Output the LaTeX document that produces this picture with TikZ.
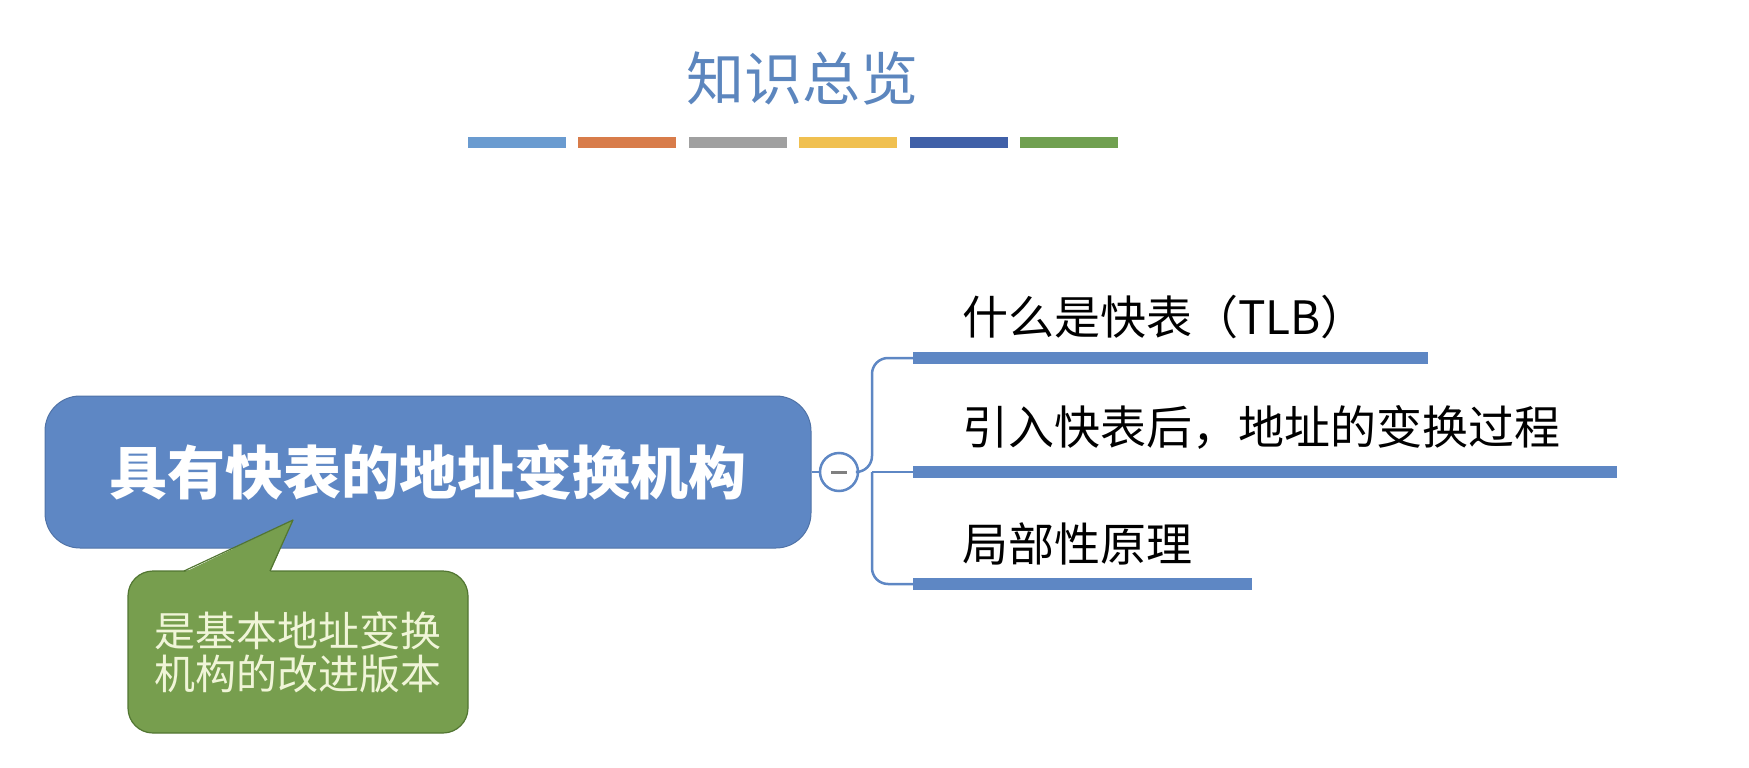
\documentclass[tikz,border=0pt]{standalone}
\usepackage{fontspec}
\newfontfamily\cjk{Noto Sans CJK SC}
\usetikzlibrary{positioning}
\definecolor{mainblue}{RGB}{94,135,196}
\definecolor{titleblue}{RGB}{92,134,190}
\definecolor{notegreen}{RGB}{119,158,78}
\definecolor{noteedge}{RGB}{82,118,50}
\definecolor{notetext}{RGB}{240,245,216}
\definecolor{barA}{RGB}{106,155,208}
\definecolor{barB}{RGB}{216,124,74}
\definecolor{barC}{RGB}{160,160,160}
\definecolor{barD}{RGB}{240,192,80}
\definecolor{barE}{RGB}{64,96,168}
\definecolor{barF}{RGB}{112,160,80}
\tikzset{
  mainbox/.style={fill=mainblue, draw=mainblue!85!black, line width=1pt, rounded corners=35pt,
    minimum width=766pt, minimum height=152pt, text=white,
    font=\cjk\bfseries\fontsize{58}{62}\selectfont},
  notebox/.style={fill=notegreen, draw=noteedge, line width=1.2pt, rounded corners=25pt,
    minimum width=340pt, minimum height=162pt, text=notetext, align=center,
    font=\cjk\fontsize{41}{43}\selectfont},
  topic/.style={anchor=west, text=black, inner sep=0pt, font=\cjk\fontsize{46}{48}\selectfont},
  underbar/.style={fill=mainblue, inner sep=0pt, minimum height=12pt, anchor=west},
  trunk/.style={draw=mainblue, line width=2.5pt, rounded corners=16pt}
}
\begin{document}
\begin{tikzpicture}[x=1pt,y=-1pt]
    \useasboundingbox (0,0) rectangle (1749,768);
    \node[text=titleblue, font=\cjk\fontsize{58}{62}\selectfont] (title) at (802,78) {知识总览};
    \foreach \c [count=\i from 0] in {barA,barB,barC,barD,barE,barF}
        \fill[\c] ({468+\i*110.4},137) rectangle ++(98,11);

    \node[mainbox] (root) at (428,472) {具有快表的地址变换机构};

    % note under the root
    \node[notebox] (note) at (298,652) {是基本地址变换\\机构的改进版本};
    \coordinate (tip) at (293,520);
    \fill[notegreen] (184,572.5) -- (tip) -- (270,572.5) -- cycle;
    \draw[noteedge, line width=1.2pt, line join=round] (184,571) -- (tip) -- (270,571);

    \node[circle, draw=mainblue, fill=white, line width=2.5pt, minimum size=38pt, inner sep=0pt] (fold) at (839,472) {};
    \draw[gray, line width=3pt] ([xshift=-8pt]fold.center) -- ([xshift=8pt]fold.center);
    \coordinate (j) at (872,472);
    \draw[mainblue, line width=2.5pt] (root.east) -- (fold.west);

    \node[underbar, minimum width=515pt] (b1) at (913,358) {};
    \node[underbar, minimum width=704pt] (b2) at (913,472) {};
    \node[underbar, minimum width=339pt] (b3) at (913,584) {};
    \draw[trunk] (fold.east) -- (j) |- (b1.west);
    \draw[trunk] (j) |- (b3.west);
    \draw[trunk] (j) -- (b2.west);

    \node[topic] (t1) at (962,317) {什么是快表（TLB）};
    \node[topic] (t2) at (962,427) {引入快表后，地址的变换过程};
    \node[topic] (t3) at (962,544) {局部性原理};
\end{tikzpicture}
\end{document}
